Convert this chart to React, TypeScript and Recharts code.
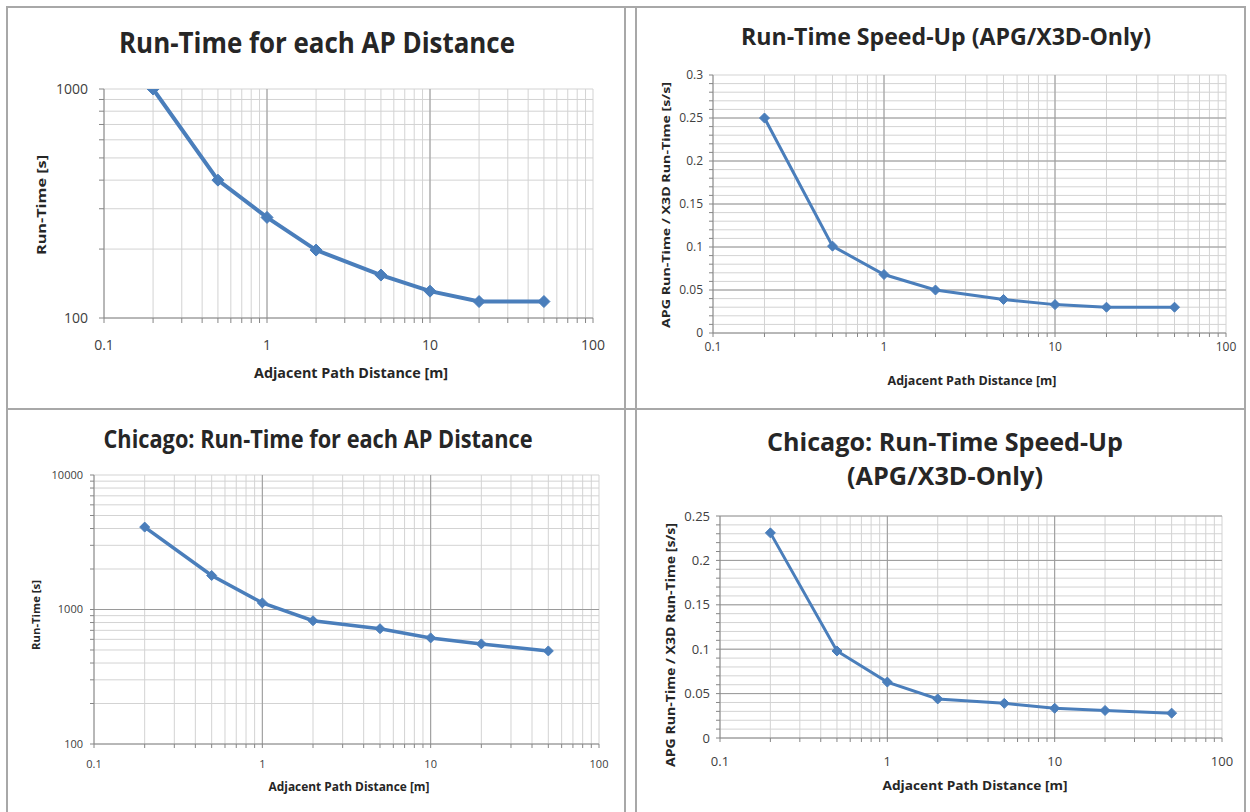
import React from 'react';
import { LineChart, Line, XAxis, YAxis, CartesianGrid, ReferenceLine } from 'recharts';

// adjacent path distances [m]
const apDistance = [0.2, 0.5, 1, 2, 5, 10, 20, 50];

// run-times / speed-ups
const runTime = [1000, 400, 275, 198, 154, 131, 118, 118];
const speedUp = [0.25, 0.101, 0.068, 0.05, 0.039, 0.033, 0.03, 0.03];
const chicagoRunTime = [4100, 1790, 1120, 825, 720, 615, 555, 492];
const chicagoSpeedUp = [0.231, 0.098, 0.063, 0.044, 0.039, 0.0335, 0.031, 0.028];

// axis ticks (log minor ticks included, only some get labels)
const xTicks = [
  0.1, 0.2, 0.3, 0.4, 0.5, 0.6, 0.7, 0.8, 0.9,
  1, 2, 3, 4, 5, 6, 7, 8, 9,
  10, 20, 30, 40, 50, 60, 70, 80, 90, 100,
];
const xLabels = [0.1, 1, 10, 100];
const xMajor = [1, 10];

const runTimeTicks = [100, 200, 300, 400, 500, 600, 700, 800, 900, 1000];
const runTimeLabels = [100, 1000];

const chicagoTicks = [
  100, 200, 300, 400, 500, 600, 700, 800, 900,
  1000, 2000, 3000, 4000, 5000, 6000, 7000, 8000, 9000, 10000,
];
const chicagoLabels = [100, 1000, 10000];
const chicagoMajor = [1000];

const speedUpTicks = [
  0, 0.01, 0.02, 0.03, 0.04, 0.05, 0.06, 0.07, 0.08, 0.09, 0.1,
  0.11, 0.12, 0.13, 0.14, 0.15, 0.16, 0.17, 0.18, 0.19, 0.2,
  0.21, 0.22, 0.23, 0.24, 0.25, 0.26, 0.27, 0.28, 0.29, 0.3,
];
const speedUpLabels = [0, 0.05, 0.1, 0.15, 0.2, 0.25, 0.3];
const chicagoSpeedUpTicks = speedUpTicks.slice(0, 26);
const chicagoSpeedUpLabels = [0, 0.05, 0.1, 0.15, 0.2, 0.25];
const speedUpMajor = [0.05, 0.1, 0.15, 0.2, 0.25];

const BLUE = '#4a7ebb';
const MINOR = '#d3d3d3';
const MAJOR = '#9a9a9a';
const AXIS = '#868686';
const TEXT = '#262626';
const FONT = '"Open Sans", "Noto Sans", sans-serif';

type Box = { left: number; top: number; right: number; bottom: number };

type PanelProps = {
  box: Box;
  plot: Box;
  values: number[];
  yLog: boolean;
  yDomain: [number, number];
  yTicks: number[];
  yLabels: number[];
  yMajor: number[];
  fontSize: number;
  xTick: [number, number];
  yTick: [number, number];
  lineWidth: number;
  dotSize: number;
};

const Y_W = 50;
const X_H = 34;

function diamond(r: number) {
  return (props: any) => {
    const { cx, cy, index } = props;
    if (cx == null || cy == null) return <g key={`d-${index}`} />;
    return (
      <path
        key={`d-${index}`}
        d={`M${cx},${cy - r}L${cx + r},${cy}L${cx},${cy + r}L${cx - r},${cy}Z`}
        fill={BLUE}
        stroke={BLUE}
      />
    );
  };
}

function Panel(p: PanelProps) {
  const width = p.box.right - p.box.left;
  const height = p.box.bottom - p.box.top;
  const margin = {
    top: p.plot.top - p.box.top,
    right: p.box.right - p.plot.right,
    left: p.plot.left - p.box.left - Y_W,
    bottom: p.box.bottom - p.plot.bottom - X_H,
  };
  const rows = apDistance.map((x, i) => ({ x, y: p.values[i] }));
  const tickStyle = { fontSize: p.fontSize, fill: '#404040', fontFamily: FONT };

  return (
    <div style={{ position: 'absolute', left: p.box.left, top: p.box.top }}>
      <LineChart width={width} height={height} data={rows} margin={margin}>
        <CartesianGrid stroke={MINOR} strokeWidth={1} />
        {xMajor.map((v) => (
          <ReferenceLine key={`xm-${v}`} x={v} stroke={MAJOR} strokeWidth={1} />
        ))}
        {p.yMajor.map((v) => (
          <ReferenceLine key={`ym-${v}`} y={v} stroke={MAJOR} strokeWidth={1} />
        ))}
        <XAxis
          dataKey="x"
          type="number"
          scale="log"
          domain={[0.1, 100]}
          allowDataOverflow
          ticks={xTicks}
          interval={0}
          height={X_H}
          tickSize={p.xTick[0]}
          tickMargin={p.xTick[1]}
          tick={tickStyle}
          stroke={AXIS}
          tickFormatter={(v: number) => (xLabels.includes(v) ? String(v) : '')}
        />
        <YAxis
          dataKey="y"
          type="number"
          scale={p.yLog ? 'log' : 'linear'}
          domain={p.yDomain}
          allowDataOverflow
          ticks={p.yTicks}
          interval={0}
          width={Y_W}
          tickSize={p.yTick[0]}
          tickMargin={p.yTick[1]}
          tick={tickStyle}
          stroke={AXIS}
          tickFormatter={(v: number) => (p.yLabels.includes(v) ? String(v) : '')}
        />
        <Line
          type="linear"
          dataKey="y"
          stroke={BLUE}
          strokeWidth={p.lineWidth}
          dot={diamond(p.dotSize)}
          activeDot={false}
          isAnimationActive={false}
        />
      </LineChart>
    </div>
  );
}

function HText(props: { x: number; y: number; w: number; size: number; text: string }) {
  return (
    <text
      x={props.x}
      y={props.y}
      textAnchor="middle"
      fontSize={props.size}
      fontWeight={700}
      fill={TEXT}
      fontFamily={FONT}
      textLength={props.w}
      lengthAdjust="spacingAndGlyphs"
    >
      {props.text}
    </text>
  );
}

function VText(props: { x: number; y: number; w: number; size: number; text: string }) {
  return (
    <text
      x={props.x}
      y={props.y}
      transform={`rotate(-90 ${props.x} ${props.y})`}
      textAnchor="middle"
      dominantBaseline="central"
      fontSize={props.size}
      fontWeight={700}
      fill={TEXT}
      fontFamily={FONT}
      textLength={props.w}
      lengthAdjust="spacingAndGlyphs"
    >
      {props.text}
    </text>
  );
}

const lineStyle = (left: number, top: number, width: number, height: number): React.CSSProperties => ({
  position: 'absolute',
  left,
  top,
  width,
  height,
  background: '#a8a8a8',
});

export default function App() {
  return (
    <div
      style={{
        position: 'absolute',
        left: 0,
        top: 0,
        width: 1250,
        height: 812,
        background: '#fff',
        overflow: 'hidden',
        fontFamily: FONT,
      }}
    >
      <Panel
        box={{ left: 8, top: 8, right: 624, bottom: 408 }}
        plot={{ left: 104, top: 89, right: 593, bottom: 318 }}
        values={runTime}
        yLog
        yDomain={[100, 1000]}
        yTicks={runTimeTicks}
        yLabels={runTimeLabels}
        yMajor={[]}
        fontSize={14}
        xTick={[5, 17]}
        yTick={[5, 11]}
        lineWidth={4}
        dotSize={6}
      />
      <Panel
        box={{ left: 637, top: 8, right: 1244, bottom: 408 }}
        plot={{ left: 713, top: 75, right: 1226, bottom: 333 }}
        values={speedUp}
        yLog={false}
        yDomain={[0, 0.3]}
        yTicks={speedUpTicks}
        yLabels={speedUpLabels}
        yMajor={speedUpMajor}
        fontSize={12}
        xTick={[4, 5]}
        yTick={[4, 6]}
        lineWidth={3}
        dotSize={5}
      />
      <Panel
        box={{ left: 8, top: 410, right: 624, bottom: 812 }}
        plot={{ left: 94, top: 475, right: 599, bottom: 744 }}
        values={chicagoRunTime}
        yLog
        yDomain={[100, 10000]}
        yTicks={chicagoTicks}
        yLabels={chicagoLabels}
        yMajor={chicagoMajor}
        fontSize={11}
        xTick={[4, 12]}
        yTick={[4, 7]}
        lineWidth={3.5}
        dotSize={5}
      />
      <Panel
        box={{ left: 637, top: 410, right: 1244, bottom: 812 }}
        plot={{ left: 720, top: 516, right: 1222, bottom: 738 }}
        values={chicagoSpeedUp}
        yLog={false}
        yDomain={[0, 0.25]}
        yTicks={chicagoSpeedUpTicks}
        yLabels={chicagoSpeedUpLabels}
        yMajor={speedUpMajor}
        fontSize={13}
        xTick={[4, 15]}
        yTick={[4, 6]}
        lineWidth={3}
        dotSize={5}
      />

      <svg
        width={1250}
        height={812}
        style={{ position: 'absolute', left: 0, top: 0, pointerEvents: 'none' }}
      >
        <HText x={317} y={53} w={396} size={28} text="Run-Time for each AP Distance" />
        <HText x={946} y={45} w={410} size={24} text="Run-Time Speed-Up (APG/X3D-Only)" />
        <HText x={318} y={448} w={429} size={25} text="Chicago: Run-Time for each AP Distance" />
        <HText x={945} y={451} w={356} size={25} text="Chicago: Run-Time Speed-Up" />
        <HText x={945} y={485} w={196} size={25} text="(APG/X3D-Only)" />

        <HText x={351} y={378} w={194} size={14} text="Adjacent Path Distance [m]" />
        <HText x={972} y={385} w={169} size={12} text="Adjacent Path Distance [m]" />
        <HText x={349} y={791} w={161} size={12} text="Adjacent Path Distance [m]" />
        <HText x={975} y={790} w={185} size={13} text="Adjacent Path Distance [m]" />

        <VText x={41} y={205} w={100} size={13} text="Run-Time  [s]" />
        <VText x={665} y={205} w={246} size={11} text="APG Run-Time  / X3D Run-Time  [s/s]" />
        <VText x={36} y={615} w={70} size={10} text="Run-Time [s]" />
        <VText x={670} y={645} w={244} size={12} text="APG Run-Time  / X3D Run-Time  [s/s]" />
      </svg>

      <div style={lineStyle(6, 6, 1240, 2)} />
      <div style={lineStyle(6, 6, 2, 806)} />
      <div style={lineStyle(6, 408, 1240, 2)} />
      <div style={lineStyle(624, 6, 2, 806)} />
      <div style={lineStyle(635, 6, 2, 806)} />
      <div style={lineStyle(1244, 6, 2, 806)} />
    </div>
  );
}
